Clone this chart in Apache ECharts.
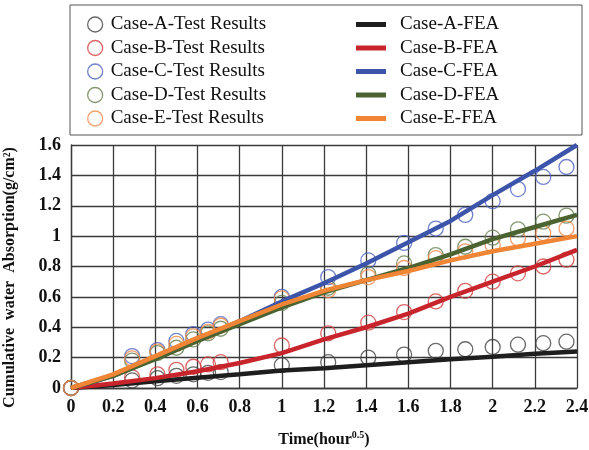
<!DOCTYPE html>
<html>
<head>
<meta charset="UTF-8">
<title>Cumulative water absorption</title>
<style>
  html, body { margin: 0; padding: 0; background: #fff; }
  #chart { width: 589px; height: 450px; }
</style>
</head>
<body>
<div id="chart"></div>
<script src="https://cdn.jsdelivr.net/npm/echarts@6/dist/echarts.min.js"></script>
<script>
// test sample times, sqrt(hour)
var testX = [0, 0.29, 0.41, 0.5, 0.58, 0.65, 0.71, 1, 1.22, 1.41, 1.58, 1.73, 1.87, 2, 2.12, 2.24, 2.35];
var caseA_test = [0, 0.05, 0.065, 0.08, 0.09, 0.1, 0.105, 0.15, 0.17, 0.2, 0.22, 0.245, 0.255, 0.27, 0.285, 0.295, 0.305];
var caseB_test = [0, 0.07, 0.09, 0.12, 0.14, 0.155, 0.17, 0.28, 0.36, 0.43, 0.5, 0.57, 0.64, 0.7, 0.755, 0.8, 0.845];
var caseC_test = [0, 0.21, 0.25, 0.31, 0.355, 0.385, 0.42, 0.6, 0.73, 0.84, 0.955, 1.05, 1.14, 1.23, 1.31, 1.39, 1.455];
var caseD_test = [0, 0.18, 0.23, 0.265, 0.32, 0.36, 0.39, 0.56, 0.66, 0.75, 0.82, 0.875, 0.93, 0.99, 1.045, 1.095, 1.135];
var caseE_test = [0, 0.195, 0.24, 0.29, 0.34, 0.37, 0.41, 0.59, 0.645, 0.73, 0.79, 0.855, 0.9, 0.94, 0.985, 1.02, 1.05];

// FEA curves
var feaX = [0, 0.2, 0.4, 0.6, 0.8, 1, 1.2, 1.4, 1.6, 1.8, 2, 2.2, 2.4];
var caseA_fea = [0, 0.02, 0.045, 0.068, 0.09, 0.115, 0.13, 0.15, 0.17, 0.19, 0.205, 0.225, 0.24];
var caseB_fea = [0, 0.03, 0.065, 0.11, 0.165, 0.23, 0.32, 0.4, 0.49, 0.6, 0.7, 0.8, 0.91];
var caseC_fea = [0, 0.08, 0.2, 0.32, 0.44, 0.57, 0.69, 0.82, 0.96, 1.1, 1.27, 1.43, 1.6];
var caseD_fea = [0, 0.08, 0.19, 0.31, 0.42, 0.53, 0.63, 0.71, 0.79, 0.88, 0.98, 1.06, 1.14];
var caseE_fea = [0, 0.09, 0.21, 0.33, 0.44, 0.55, 0.64, 0.71, 0.77, 0.84, 0.9, 0.95, 1.0];

var testNames = ['Case-A-Test Results', 'Case-B-Test Results', 'Case-C-Test Results', 'Case-D-Test Results', 'Case-E-Test Results'];
var feaNames = ['Case-A-FEA', 'Case-B-FEA', 'Case-C-FEA', 'Case-D-FEA', 'Case-E-FEA'];
var testData = [caseA_test, caseB_test, caseC_test, caseD_test, caseE_test];
var feaData = [caseA_fea, caseB_fea, caseC_fea, caseD_fea, caseE_fea];

var ringColors = ['#444444', '#d2403f', '#4f63c0', '#66804f', '#f0894a'];
var lineColors = ['#1e1e1e', '#c8242b', '#3c55ab', '#4b6330', '#ef8535'];

function pairs(xs, ys) {
    return xs.map(function (x, i) { return [x, ys[i]]; });
}

var font = '"Liberation Serif", "DejaVu Serif", serif';
var gridColor = '#3a3a3a';

var series = [];
testNames.forEach(function (name, i) {
    series.push({
        name: name,
        type: 'scatter',
        data: pairs(testX, testData[i]),
        symbol: 'circle',
        symbolSize: 15,
        itemStyle: { color: 'rgba(0,0,0,0)', borderColor: ringColors[i], borderWidth: 1.3 },
        z: 2
    });
});
feaNames.forEach(function (name, i) {
    series.push({
        name: name,
        type: 'line',
        data: pairs(feaX, feaData[i]),
        showSymbol: false,
        symbol: 'none',
        lineStyle: { color: lineColors[i], width: 4.5 },
        itemStyle: { color: lineColors[i] },
        z: 3
    });
});

var chart = echarts.init(document.getElementById('chart'));
chart.setOption({
    backgroundColor: '#fff',
    animation: false,
    textStyle: { fontFamily: font },
    graphic: [{
        type: 'rect',
        shape: { x: 70, y: 5, width: 512, height: 130 },
        style: { fill: 'none', stroke: '#555', lineWidth: 1 },
        silent: true
    }],
    legend: [{
        left: 82, top: 10,
        orient: 'vertical',
        itemWidth: 15, itemHeight: 15, itemGap: 4.5,
        textStyle: { fontFamily: font, fontSize: 19, color: '#111', lineHeight: 18, padding: [0, 0, 0, 3] },
        data: testNames.map(function (n, i) {
            return { name: n, icon: 'circle', itemStyle: { color: 'rgba(0,0,0,0)', borderColor: ringColors[i], borderWidth: 1.3 } };
        })
    }, {
        left: 351, top: 10,
        orient: 'vertical',
        itemWidth: 30, itemHeight: 5, itemGap: 4.5,
        textStyle: { fontFamily: font, fontSize: 19, color: '#111', lineHeight: 18, padding: [0, 0, 0, 9] },
        data: feaNames.map(function (n, i) {
            return { name: n, icon: 'rect', itemStyle: { color: lineColors[i] } };
        })
    }],
    grid: { left: 71, right: 12, top: 145, bottom: 62, outerBoundsMode: 'none' },
    xAxis: {
        type: 'value',
        min: 0, max: 2.4, interval: 0.2,
        name: '{a|Time(hour}{s|0.5}{a|)}',
        nameLocation: 'middle',
        nameGap: 42,
        nameTextStyle: {
            rich: {
                a: { fontFamily: font, fontSize: 16, fontWeight: 'bold', color: '#111', lineHeight: 18, verticalAlign: 'bottom' },
                s: { fontFamily: font, fontSize: 10, fontWeight: 'bold', color: '#111', lineHeight: 18, verticalAlign: 'top', padding: [0, 0, 6, 0] }
            }
        },
        axisLine: { lineStyle: { color: gridColor, width: 1.3 } },
        axisTick: { show: false },
        axisLabel: { fontFamily: font, fontSize: 18, fontWeight: 'bold', color: '#111', margin: 10 },
        splitLine: { show: true, lineStyle: { color: gridColor, width: 1.3 } }
    },
    yAxis: {
        type: 'value',
        min: 0, max: 1.6, interval: 0.2,
        name: 'Cumulative  water  Absorption(g/cm\u00B2)',
        nameLocation: 'middle',
        nameGap: 53,
        nameTextStyle: { fontFamily: font, fontSize: 16, fontWeight: 'bold', color: '#111', padding: [0, 22, 0, 0] },
        axisLine: { show: true, lineStyle: { color: gridColor, width: 1.3 } },
        axisTick: { show: false },
        axisLabel: { fontFamily: font, fontSize: 18, fontWeight: 'bold', color: '#111', margin: 10 },
        splitLine: { show: true, lineStyle: { color: gridColor, width: 1.3 } }
    },
    series: series
});
</script>
</body>
</html>
